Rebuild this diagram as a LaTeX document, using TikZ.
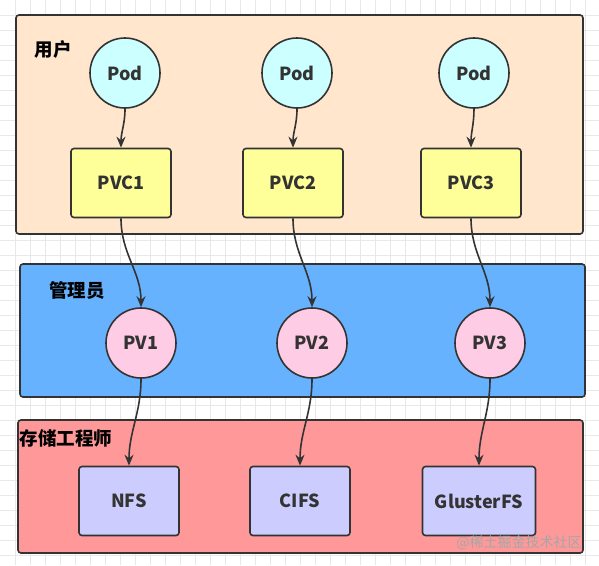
\documentclass[tikz,border=0pt]{standalone}
\usepackage{fontspec}
\setmainfont{Noto Sans CJK SC}
\usepackage{xcolor}
\usetikzlibrary{arrows.meta, positioning}
\definecolor{linecolor}{RGB}{51,51,51}
\definecolor{usercolor}{RGB}{255,230,204}
\definecolor{admincolor}{RGB}{102,178,255}
\definecolor{storecolor}{RGB}{255,153,153}
\definecolor{podcolor}{RGB}{204,255,255}
\definecolor{pvccolor}{RGB}{255,255,153}
\definecolor{pvcolor}{RGB}{255,204,230}
\definecolor{fscolor}{RGB}{204,204,255}
\definecolor{gridcolor}{RGB}{232,232,232}

\begin{document}
\begin{tikzpicture}[x=1pt, y=-1pt,
  layer/.style={draw=linecolor, line width=1.6pt, rounded corners=3pt},
  circ/.style={circle, draw=linecolor, line width=1.6pt, minimum size=70pt,
               inner sep=0pt, font=\fontsize{18}{18}\selectfont\bfseries,
               text=linecolor},
  box/.style={draw=linecolor, line width=1.6pt, rounded corners=3pt,
              minimum width=100pt, minimum height=69pt, inner sep=0pt,
              font=\fontsize{18}{18}\selectfont\bfseries, text=linecolor},
  title/.style={font=\fontsize{18.5}{18.5}\selectfont\bfseries, text=black},
  arrow/.style={-{Stealth[length=11pt, width=9pt]}, line width=1.6pt,
                draw=linecolor},
]
\useasboundingbox (0,0) rectangle (599,565);
% background grid
\fill[white] (0,0) rectangle (599,565);
\foreach \gx in {15,30,...,590} \draw[gridcolor, line width=0.7pt] (\gx,0) -- (\gx,565);
\foreach \gy in {15,30,...,560} \draw[gridcolor, line width=0.7pt] (0,\gy) -- (599,\gy);

% layers
\draw[layer, fill=usercolor]  (16,15)  rectangle (583,234);
\draw[layer, fill=admincolor] (20,264) rectangle (585,397);
\draw[layer, fill=storecolor] (18,420) rectangle (583,553);
\node[title] (user)  at (53,49)  {用户};
\node[title] (admin) at (77,290) {管理员};
\node[title] (store) at (66,438) {存储工程师};

% user
\node[circ, fill=podcolor] (pod1) at (125,73) {Pod};
\node[circ, fill=podcolor] (pod2) at (297,73) {Pod};
\node[circ, fill=podcolor] (pod3) at (474,73) {Pod};
\node[box, fill=pvccolor] (pvc1) at (121,183) {PVC1};
\node[box, fill=pvccolor] (pvc2) at (293,183) {PVC2};
\node[box, fill=pvccolor] (pvc3) at (471,183) {PVC3};

% admin
\node[circ, fill=pvcolor] (pv1) at (141,343) {PV1};
\node[circ, fill=pvcolor] (pv2) at (312,343) {PV2};
\node[circ, fill=pvcolor] (pv3) at (490,343) {PV3};

% storage
\node[box, fill=fscolor] (nfs)  at (129,501) {NFS};
\node[box, fill=fscolor] (cifs) at (300,501) {CIFS};
\node[box, fill=fscolor, minimum width=113pt] (gfs) at (479,501) {GlusterFS};

\foreach \i/\j in {pod1/pvc1, pod2/pvc2, pod3/pvc3,
                   pvc1/pv1, pvc2/pv2, pvc3/pv3,
                   pv1/nfs, pv2/cifs, pv3/gfs}
  \draw[arrow] (\i.south) to[out=-90, in=90] (\j.north);

\node[text=black!35, font=\fontsize{14}{14}\selectfont] (mark) at (519,543) {@稀土掘金技术社区};
\end{tikzpicture}
\end{document}
